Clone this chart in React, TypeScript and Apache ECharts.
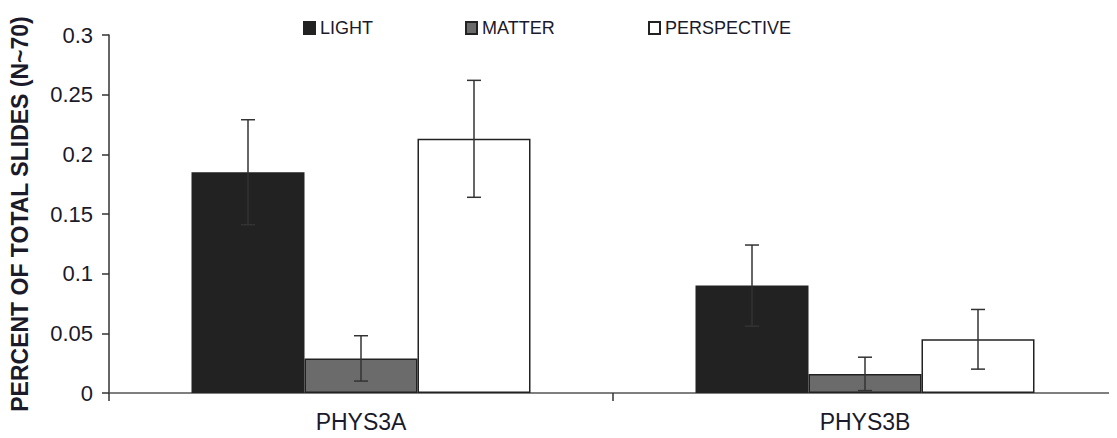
import React, { useEffect, useRef } from "react";
import * as echarts from "echarts";

const categories = ["PHYS3A", "PHYS3B"];
const seriesNames = ["LIGHT", "MATTER", "PERSPECTIVE"];
const lightValues = [0.185, 0.09];
const lightErrors = [0.044, 0.034];
const matterValues = [0.029, 0.016];
const matterErrors = [0.019, 0.014];
const perspectiveValues = [0.213, 0.045];
const perspectiveErrors = [0.049, 0.025];
const yTicks = [0, 0.05, 0.1, 0.15, 0.2, 0.25, 0.3];

const BAR_W = 113;

export default function App() {
  const ref = useRef<HTMLDivElement>(null);
  useEffect(() => {
    if (!ref.current) return;
    const chart = echarts.init(ref.current, null, { renderer: "svg" });
    const values = [lightValues, matterValues, perspectiveValues];
    const errors = [lightErrors, matterErrors, perspectiveErrors];
    const fills = ["#222222", "#6b6b6b", "#ffffff"];
    const errData: any[] = [];
    values.forEach((vals, s) => {
      vals.forEach((v, c) => errData.push([c, v, errors[s][c], s]));
    });
    const font = "'Liberation Sans', Arial, sans-serif";
    const legendLefts = [303, 465, 648];
    chart.setOption({
      animation: false,
      legend: seriesNames.map((n, i) => ({
        data: [n],
        left: legendLefts[i],
        top: 19,
        padding: 0,
        icon: "rect",
        itemWidth: 11,
        itemHeight: 12,
        itemGap: 0,
        selectedMode: false,
        textStyle: {
          fontFamily: font,
          fontSize: 18,
          color: "#1a1a2a",
        },
      })),
      grid: { left: 109, top: 35, height: 358, width: 1016 },
      xAxis: {
        type: "category",
        data: categories,
        axisLine: { lineStyle: { color: "#555", width: 1.5 } },
        axisTick: { show: true, length: 8, lineStyle: { color: "#333", width: 1.5 } },
        axisLabel: { margin: 17, fontSize: 23, color: "#1a1a2a", fontFamily: font },
      },
      yAxis: {
        type: "value",
        min: 0,
        max: 0.3,
        interval: 0.05,
        name: "PERCENT OF TOTAL SLIDES (N~70)",
        nameLocation: "middle",
        nameRotate: 90,
        nameGap: 78,
        nameTextStyle: { fontSize: 23, fontWeight: "bold", color: "#1a1a2a", fontFamily: font },
        axisLine: { show: true, lineStyle: { color: "#333", width: 1.5 } },
        axisTick: { show: true, length: 7, lineStyle: { color: "#333", width: 1.5 } },
        splitLine: { show: false },
        axisLabel: {
          margin: 16,
          fontSize: 22,
          color: "#1a1a2a",
          fontFamily: font,
          formatter: (v: number) => {
            const t = yTicks.find((x) => Math.abs(x - v) < 1e-9);
            return String(t ?? v);
          },
        },
      },
      series: [
        ...seriesNames.map((n, s) => ({
          name: n,
          type: "bar",
          data: values[s],
          barWidth: BAR_W,
          barGap: "0%",
          itemStyle: { color: fills[s], borderColor: "#222", borderWidth: 1.5 },
        })),
        {
          type: "custom",
          data: errData,
          z: 10,
          renderItem: (params: any, api: any) => {
            const c = api.value(0);
            const v = api.value(1);
            const e = api.value(2);
            const s = api.value(3);
            const off = (s - 1) * BAR_W;
            const hi = api.coord([c, v + e]);
            const lo = api.coord([c, Math.max(0, v - e)]);
            const x = hi[0] + off;
            const cap = 7;
            const style = { stroke: "#333", lineWidth: 1.5 };
            return {
              type: "group",
              children: [
                { type: "line", shape: { x1: x, y1: hi[1], x2: x, y2: lo[1] }, style },
                { type: "line", shape: { x1: x - cap, y1: hi[1], x2: x + cap, y2: hi[1] }, style },
                { type: "line", shape: { x1: x - cap, y1: lo[1], x2: x + cap, y2: lo[1] }, style },
              ],
            };
          },
        },
      ],
    });
    return () => chart.dispose();
  }, []);
  return <div ref={ref} style={{ width: 1117, height: 438, margin: -8 }} />;
}
